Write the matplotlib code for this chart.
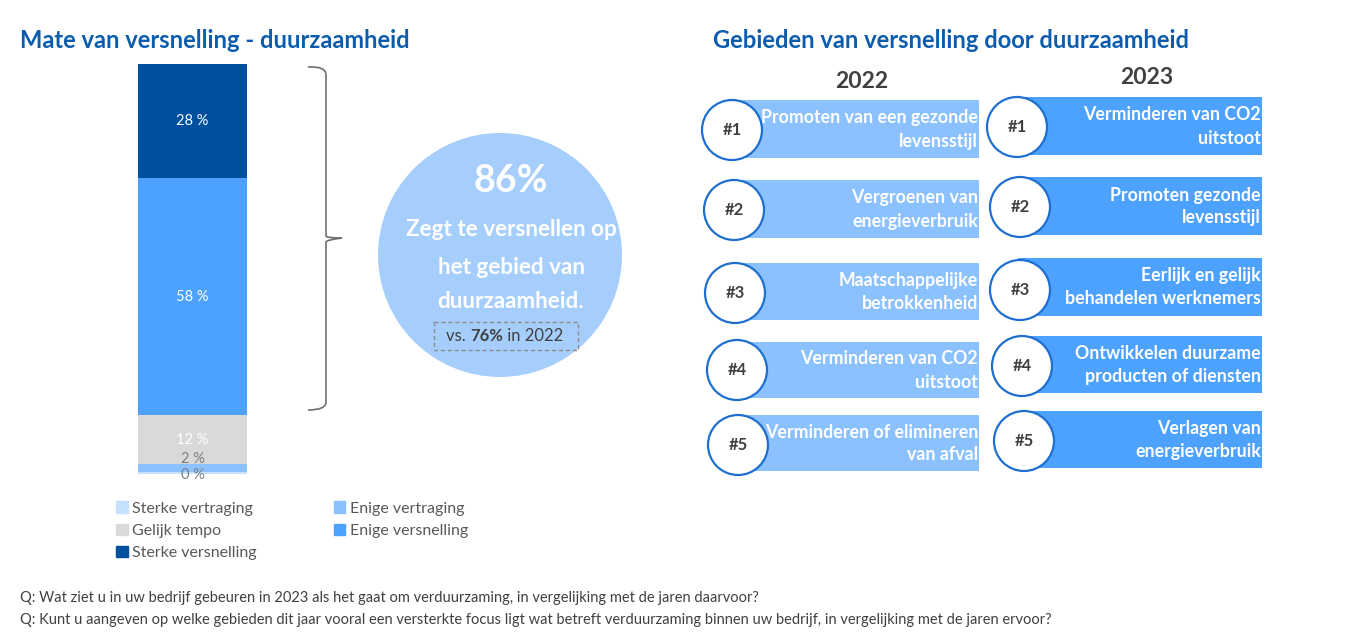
import matplotlib
matplotlib.use("Agg")
import matplotlib.pyplot as plt
from matplotlib.patches import Circle, Rectangle, Patch, PathPatch
from matplotlib.path import Path

plt.rcParams['font.family'] = ['Lato', 'DejaVu Sans']

# ---- data ----
categories = ["Sterke vertraging", "Enige vertraging", "Gelijk tempo",
              "Enige versnelling", "Sterke versnelling"]
values = [0.4, 2, 12, 58, 28]
value_labels = ["0 %", "2 %", "12 %", "58 %", "28 %"]
share_2023 = "86%"
share_2022 = "76%"

ranks = ["#1", "#2", "#3", "#4", "#5"]
areas_2022 = ["Promoten van een gezonde\nlevensstijl",
              "Vergroenen van\nenergieverbruik",
              "Maatschappelijke\nbetrokkenheid",
              "Verminderen van CO2\nuitstoot",
              "Verminderen of elimineren\nvan afval"]
areas_2023 = ["Verminderen van CO2\nuitstoot",
              "Promoten gezonde\nlevensstijl",
              "Eerlijk en gelijk\nbehandelen werknemers",
              "Ontwikkelen duurzame\nproducten of diensten",
              "Verlagen van\nenergieverbruik"]

questions = ["Q: Wat ziet u in uw bedrijf gebeuren in 2023 als het gaat om verduurzaming, in vergelijking met de jaren daarvoor?",
             "Q: Kunt u aangeven op welke gebieden dit jaar vooral een versterkte focus ligt wat betreft verduurzaming binnen uw bedrijf, in vergelijking met de jaren ervoor?"]

colors = ["#c6e0ff", "#8bc1ff", "#d9d9d9", "#4da1ff", "#0050a0"]
label_colors = ["#7f7f7f", "#7f7f7f", "white", "white", "white"]
title_blue = "#0b5cad"
dark = "#404040"

W, H = 1352, 640
fig = plt.figure(figsize=(W / 100, H / 100), dpi=100)

# full-figure canvas in pixel coordinates
ax = fig.add_axes([0, 0, 1, 1])
ax.set_xlim(0, W)
ax.set_ylim(H, 0)
ax.axis("off")

# ---- stacked bar ----
bx = fig.add_axes([138 / W, (H - 474) / H, 109 / W, 410 / H])
bottom = 0
label_shift = [-1, 7, 0, 0, 0]  # points, keeps small labels apart
for v, c, lab, lc, sh in zip(values, colors, value_labels, label_colors, label_shift):
    bx.bar(0, v, bottom=bottom, width=1, color=c)
    bx.annotate(lab, (0, bottom + v / 2), xytext=(0, sh), textcoords="offset points",
                ha="center", va="center", color=lc, fontsize=10.5, annotation_clip=False)
    bottom += v
bx.set_xlim(-0.5, 0.5)
bx.set_ylim(0, sum(values))
bx.axis("off")

handles = [Patch(color=colors[i], label=categories[i]) for i in [0, 2, 4, 1, 3]]
fig.legend(handles=handles, ncol=2, loc="upper left", bbox_to_anchor=(102 / W, 1 - 487 / H),
           frameon=False, fontsize=11.5, handlelength=0.7, handleheight=0.7,
           handletextpad=0.3, labelspacing=0.5, columnspacing=4.8, labelcolor="#595959")

ax.text(20, 40, "Mate van versnelling - duurzaamheid", color=title_blue, fontsize=17.1,
        fontweight="bold", va="center", ha="left")

# ---- curly brace ----
verts = [(308, 67), (326, 66), (326, 75), (326, 236), (326, 238), (342, 238),
         (326, 240), (326, 242), (326, 402), (326, 410), (308, 410)]
codes = [Path.MOVETO, Path.CURVE3, Path.CURVE3, Path.LINETO, Path.CURVE3, Path.CURVE3,
         Path.CURVE3, Path.CURVE3, Path.LINETO, Path.CURVE3, Path.CURVE3]
ax.add_patch(PathPatch(Path(verts, codes), fill=False, edgecolor="#6f6f6f", lw=1.2))

# ---- big circle ----
ax.add_patch(Circle((500, 255), 122, color="#a6cefc", lw=0))
ax.text(511, 181, share_2023, color="white", fontsize=27, fontweight="bold", ha="center", va="center")
for y, line in zip([230, 267, 302], ["Zegt te versnellen op", "het gebied van", "duurzaamheid."]):
    ax.text(511, y, line, color="white", fontsize=16.2, fontweight="bold", ha="center", va="center")
ax.add_patch(Rectangle((434, 322), 144, 28, fill=False, edgecolor="#8c8c8c", lw=1, ls=(0, (3, 2))))
t1 = ax.text(446, 336, "vs. ", color=dark, fontsize=12, ha="left", va="center")
t2 = ax.annotate(share_2022, xy=(1, 0), xycoords=t1, va="bottom", ha="left",
                 color=dark, fontsize=12, fontweight="bold")
ax.annotate(" in 2022", xy=(1, 0), xycoords=t2, va="bottom", ha="left", color=dark, fontsize=12)

# ---- ranking ----
ax.text(713, 40, "Gebieden van versnelling door duurzaamheid", color=title_blue, fontsize=17.1,
        fontweight="bold", va="center", ha="left")
ax.text(862, 82, "2022", color=dark, fontsize=16.5, fontweight="bold", ha="center", va="center")
ax.text(1147, 78, "2023", color=dark, fontsize=16.5, fontweight="bold", ha="center", va="center")

cols = [
    (areas_2022, "#8bc1ff", 733, 979, [(100, 158), (180, 238), (263, 320), (342, 398), (415, 471)],
     [(732, 130), (734, 210), (735, 293), (737, 370), (738, 445)]),
    (areas_2023, "#4da1ff", 1018, 1262, [(97, 155), (177, 235), (258, 316), (336, 393), (411, 468)],
     [(1017, 127), (1020, 207), (1020, 290), (1022, 366), (1024, 441)]),
]
for areas, col, x0, x1, rows, centers in cols:
    for area, rk, (y0, y1), (cx, cy) in zip(areas, ranks, rows, centers):
        box = Rectangle((x0, y0), x1 - x0, y1 - y0, color=col, lw=0)
        ax.add_patch(box)
        top, bot = area.split("\n")
        ym = (y0 + y1) / 2
        for yy, s in [(ym - 11, top), (ym + 12, bot)]:
            t = ax.text(x1 - 1, yy, s, color="white", fontsize=12.8, fontweight="bold",
                        ha="right", va="center")
            t.set_clip_path(box)
        ax.add_patch(Circle((cx, cy), 30, facecolor="white", edgecolor="#1f6fd0", lw=1.6, zorder=3))
        ax.text(cx, cy, rk, color=dark, fontsize=12, fontweight="bold", ha="center", va="center", zorder=4)

# ---- footnotes ----
for y, q in zip([598, 620], questions):
    ax.text(20, y, q, color=dark, fontsize=10.5, ha="left", va="center")

fig.savefig("out.png", dpi=100)
